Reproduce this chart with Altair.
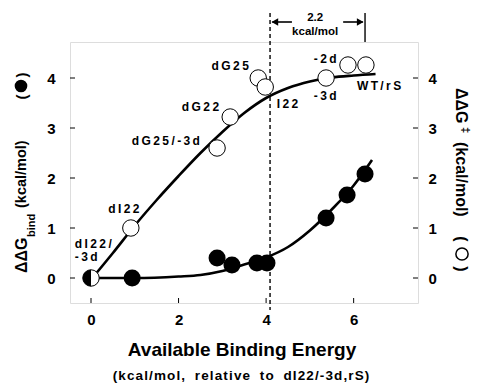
import altair as alt
import pandas as pd

FONT = "Liberation Sans"
TS = "\u2009"  # thin space used for letter spacing
HS = "\u200a"  # hair space

# ---------------- data ----------------
ref_x = [0.0]
ref_y = [0.0]

open_x = [0.91, 2.88, 3.18, 3.82, 3.98, 5.37, 5.87, 6.28]
open_y = [1.00, 2.60, 3.22, 4.00, 3.82, 4.00, 4.26, 4.26]

filled_x = [0.94, 2.88, 3.22, 3.79, 4.02, 5.37, 5.85, 6.26]
filled_y = [0.00, 0.40, 0.26, 0.30, 0.30, 1.20, 1.66, 2.08]

open_fit_x = [0.03, 0.5, 1.0, 1.5, 2.0, 2.5, 3.0, 3.5, 4.0, 4.5, 5.0, 5.5, 6.0, 6.5]
open_fit_y = [0.00, 0.50, 1.05, 1.56, 2.04, 2.50, 2.92, 3.30, 3.60, 3.80, 3.93, 4.01, 4.05, 4.08]

filled_fit_x = [0.0, 1.0, 2.0, 2.5, 3.0, 3.5, 4.0, 4.5, 5.0, 5.5, 6.0, 6.42]
filled_fit_y = [0.0, 0.0, 0.03, 0.06, 0.14, 0.27, 0.41, 0.62, 0.95, 1.37, 1.85, 2.36]

center_labels = ["dG25", "dG22", "dG25/-3d", "dI22", "I22", "-3d", "-2d", "WT/rS"]
center_label_x = [3.18, 2.50, 1.71, 0.75, 4.49, 5.35, 5.35, 6.58]
center_label_y = [4.24, 3.42, 2.74, 1.38, 3.49, 3.64, 4.38, 3.84]

left_labels = ["dI22/", "-3d"]
left_label_x = [-0.37, -0.37]
left_label_y = [0.69, 0.42]

x_ticks = [0, 2, 4, 6]
y_ticks = [0, 1, 2, 3, 4]

divider_x = [4.09]
wt_x = [6.26]
span_text = ["2.2", "kcal/mol"]

W, H = 348, 261

def spaced(s, sep=TS):
    return sep.join(list(s))

xs = alt.Scale(domain=[-0.48, 7.47], nice=False, zero=False)
ys = alt.Scale(domain=[-0.5, 4.72], nice=False, zero=False)

x_axis = alt.Axis(values=x_ticks, ticks=False, tickSize=0, domain=False, grid=False,
                  title=None, labelPadding=9, labelFontSize=15, labelFontWeight="bold",
                  labelFont=FONT, labelColor="black")
y_axis = alt.Axis(values=y_ticks, ticks=False, tickSize=0, domain=False, grid=False,
                  title=None, labelPadding=15, labelFontSize=15, labelFontWeight="bold",
                  labelFont=FONT, labelColor="black")
y_axis_r = alt.Axis(values=y_ticks, ticks=False, tickSize=0, domain=False, grid=False,
                    title=None, labelPadding=10, labelFontSize=15, labelFontWeight="bold",
                    labelFont=FONT, labelColor="black", orient="right")

def X(f="x"):
    return alt.X(f"{f}:Q", scale=xs, axis=x_axis)

def Y(f="y"):
    return alt.Y(f"{f}:Q", scale=ys, axis=y_axis)

df_open = pd.DataFrame({"x": open_x, "y": open_y})
df_filled = pd.DataFrame({"x": filled_x, "y": filled_y})
df_ref = pd.DataFrame({"x": ref_x, "y": ref_y})
df_ofit = pd.DataFrame({"x": open_fit_x, "y": open_fit_y})
df_ffit = pd.DataFrame({"x": filled_fit_x, "y": filled_fit_y})
df_cl = pd.DataFrame({"x": center_label_x, "y": center_label_y,
                      "t": [spaced(s) for s in center_labels]})
df_ll = pd.DataFrame({"x": left_label_x, "y": left_label_y,
                      "t": [spaced(s) for s in left_labels]})

layers = []

# inward ticks
layers.append(alt.Chart(pd.DataFrame({"t": x_ticks})).mark_rule(color="black", strokeWidth=1)
              .encode(x=X("t"), y=alt.value(H), y2=alt.value(H - 5)))
layers.append(alt.Chart(pd.DataFrame({"t": y_ticks})).mark_rule(color="black", strokeWidth=1)
              .encode(y=Y("t"), x=alt.value(0), x2=alt.value(5)))
layers.append(alt.Chart(pd.DataFrame({"t": y_ticks})).mark_rule(color="black", strokeWidth=1)
              .encode(y=Y("t"), x=alt.value(W - 5), x2=alt.value(W)))

# dashed divider (extends beyond the frame)
layers.append(alt.Chart(pd.DataFrame({"x": divider_x, "y": [5.3], "y2": [-0.64]}))
              .mark_rule(color="black", strokeWidth=1.4, strokeDash=[4, 3])
              .encode(x=X(), y=Y(), y2="y2:Q"))
# WT marker vertical line above frame
layers.append(alt.Chart(pd.DataFrame({"x": wt_x, "y": [5.3], "y2": [4.72]}))
              .mark_rule(color="black", strokeWidth=1.4)
              .encode(x=X(), y=Y(), y2="y2:Q"))
# arrows
arrow_y = 5.12
layers.append(alt.Chart(pd.DataFrame({"x": [divider_x[0] + 0.05, wt_x[0] - 0.5],
                                      "x2": [divider_x[0] + 0.5, wt_x[0] - 0.05],
                                      "y": [arrow_y, arrow_y]}))
              .mark_rule(color="black", strokeWidth=1.6)
              .encode(x=X(), x2="x2:Q", y=Y()))
layers.append(alt.Chart(pd.DataFrame({"x": [divider_x[0] + 0.11], "y": [arrow_y]}))
              .mark_point(shape="triangle-left", filled=True, color="black", size=60, opacity=1)
              .encode(x=X(), y=Y()))
layers.append(alt.Chart(pd.DataFrame({"x": [wt_x[0] - 0.11], "y": [arrow_y]}))
              .mark_point(shape="triangle-right", filled=True, color="black", size=60, opacity=1)
              .encode(x=X(), y=Y()))
layers.append(alt.Chart(pd.DataFrame({"x": [5.12, 5.12], "y": [5.21, 4.93], "t": span_text}))
              .mark_text(font=FONT, fontSize=11.5, fontWeight="bold", color="black", baseline="middle")
              .encode(x=X(), y=Y(), text="t:N"))

# fit curves
layers.append(alt.Chart(df_ofit).mark_line(color="black", strokeWidth=2.6, interpolate="monotone")
              .encode(x=X(), y=Y()))
layers.append(alt.Chart(df_ffit).mark_line(color="black", strokeWidth=2.6, interpolate="monotone")
              .encode(x=X(), y=Y()))

# points
layers.append(alt.Chart(df_open).mark_point(shape="circle", filled=True, fill="white", stroke="black",
                                            strokeWidth=1, size=270, opacity=1)
              .encode(x=X(), y=Y()))
layers.append(alt.Chart(df_filled).mark_point(shape="circle", filled=True, color="black",
                                              size=290, opacity=1)
              .encode(x=X(), y=Y()))
layers.append(alt.Chart(df_ref).mark_point(shape="circle", filled=True, fill="white", stroke="black",
                                           strokeWidth=1, size=270, opacity=1)
              .encode(x=X(), y=Y()))
layers.append(alt.Chart(df_ref).mark_point(shape="M0,-1A1,1,0,0,0,0,1Z", filled=True, color="black",
                                           size=270, opacity=1)
              .encode(x=X(), y=Y()))

# point labels
layers.append(alt.Chart(df_cl).mark_text(font=FONT, fontSize=12, fontWeight="bold", color="black",
                                         baseline="middle", align="center")
              .encode(x=X(), y=Y(), text="t:N"))
layers.append(alt.Chart(df_ll).mark_text(font=FONT, fontSize=12, fontWeight="bold", color="black",
                                         baseline="middle", align="left")
              .encode(x=X(), y=Y(), text="t:N"))

one = pd.DataFrame({"a": [0]})

def txt(s, x, y, size, angle=0, align="center", baseline="middle"):
    return (alt.Chart(one)
            .mark_text(text=s, font=FONT, fontSize=size, fontWeight="bold", color="black",
                       angle=angle, align=align, baseline=baseline)
            .encode(x=alt.value(x), y=alt.value(y)))

def dot(x, y, size, filled):
    if filled:
        m = alt.Chart(one).mark_point(shape="circle", filled=True, color="black", size=size, opacity=1)
    else:
        m = alt.Chart(one).mark_point(shape="circle", filled=False, color="black", strokeWidth=1.5,
                                      size=size, opacity=1)
    return m.encode(x=alt.value(x), y=alt.value(y))

# x titles
subtitle = "(kcal/mol, relative to dI22/-3d,rS)"
layers.append(txt("Available Binding Energy", 172, 308, 19))
layers.append(txt(spaced(subtitle, HS).replace(" ", "\u00a0 "), 171, 334, 13.5))

# left title (reads bottom to top)
layers.append(txt("ΔΔG", -48, 231, 16, angle=270, align="left"))
layers.append(txt("bind", -38, 195, 11, angle=270, align="left"))
layers.append(txt("(kcal/mol)", -48, 166, 14.5, angle=270, align="left"))
layers.append(txt("(", -48, 55, 15, angle=270))
layers.append(dot(-49, 44, 160, True))
layers.append(txt(")", -48, 33, 15, angle=270))

# right title (reads top to bottom)
layers.append(txt("ΔΔG", 391, 46, 16, angle=90, align="left"))
layers.append(txt("‡", 395, 85, 11, angle=90, align="left"))
layers.append(txt("(kcal/mol)", 391, 100, 16, angle=90, align="left"))
layers.append(txt("(", 391, 197, 16, angle=90))
layers.append(dot(392, 212, 150, False))
layers.append(txt(")", 391, 227, 16, angle=90))

main = alt.layer(*layers)

right_axis = (alt.Chart(pd.DataFrame({"y": y_ticks}))
              .mark_point(opacity=0)
              .encode(y=alt.Y("y:Q", scale=ys, axis=y_axis_r)))

chart = (alt.layer(main, right_axis)
         .resolve_scale(y="independent")
         .properties(width=W, height=H,
                     autosize=alt.AutoSizeParams(type="none"),
                     padding={"left": 62, "top": 34, "right": 56, "bottom": 82})
         .configure_view(stroke="black", strokeWidth=1)
         .configure(background="white"))

chart.save("out.html", embed_options={"renderer": "svg", "actions": False})
